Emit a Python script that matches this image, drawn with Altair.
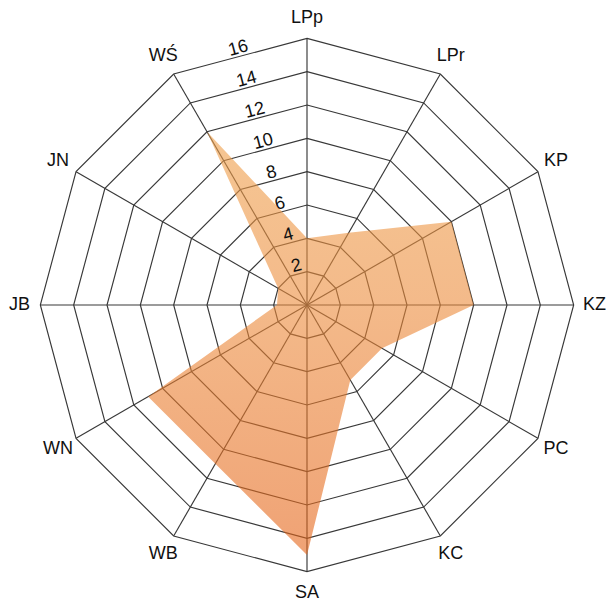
import altair as alt
import pandas as pd

categories = ["LPp", "LPr", "KP", "KZ", "PC", "KC", "SA", "WB", "WN", "JB", "JN", "WŚ"]
values = [4.0, 5.0, 10.0, 10.0, 5.2, 5.2, 15.0, 11.0, 11.0, 1.8, 2.0, 12.0]
rings = [2, 4, 6, 8, 10, 12, 14, 16]
tick_labels = ["2", "4", "6", "8", "10", "12", "14", "16"]

LABEL_R = 17.25
N = len(categories)

series = pd.DataFrame({"cat": categories, "value": values, "k": list(range(N))})
grid = pd.DataFrame([{"ring": r, "k": k} for r in rings for k in range(N)])
spokes = pd.DataFrame({"k": list(range(N)), "r": [16] * N})
ticks = pd.DataFrame({"t": rings, "label": tick_labels})

xs = alt.Scale(domain=[-17.94, 17.94], nice=False, zero=False)
ys = alt.Scale(domain=[-17.76, 17.82], nice=False, zero=False)

def X(f):
    return alt.X(f, type="quantitative", scale=xs, axis=None)

def Y(f):
    return alt.Y(f, type="quantitative", scale=ys, axis=None)

ring_layer = alt.Chart(grid).transform_calculate(
    x="datum.ring * sin(datum.k * PI / 6)",
    y="datum.ring * cos(datum.k * PI / 6)",
).mark_line(interpolate="linear-closed", color="#383838", strokeWidth=1.15).encode(
    x=X("x"), y=Y("y"), detail="ring:N", order="k:Q"
)

spoke_layer = alt.Chart(spokes).transform_calculate(
    x="datum.r * sin(datum.k * PI / 6)",
    y="datum.r * cos(datum.k * PI / 6)",
    x0="0",
    y0="0",
).mark_rule(color="#383838", strokeWidth=1.15).encode(
    x=X("x0"), y=Y("y0"), x2="x:Q", y2="y:Q"
)

gradient = alt.LinearGradient(
    gradient="linear",
    stops=[
        alt.GradientStop(color="#EFA04A", offset=0),
        alt.GradientStop(color="#EC8C3C", offset=0.4),
        alt.GradientStop(color="#E56418", offset=1),
    ],
    x1=0, x2=0, y1=0, y2=1,
)

fill_layer = alt.Chart(series).transform_calculate(
    x="datum.value * sin(datum.k * PI / 6)",
    y="datum.value * cos(datum.k * PI / 6)",
).mark_line(
    interpolate="linear-closed", fill=gradient, fillOpacity=0.6, strokeOpacity=0
).encode(x=X("x"), y=Y("y"), order="k:Q")

cat_layer = alt.Chart(series).transform_calculate(
    x=f"{LABEL_R} * sin(datum.k * PI / 6)",
    y=f"{LABEL_R} * cos(datum.k * PI / 6)",
).mark_text(
    font="Liberation Sans", fontSize=18, color="#111111", align="center", baseline="middle"
).encode(x=X("x"), y=Y("y"), text="cat:N")

tick_layer = alt.Chart(ticks).transform_calculate(
    x="-datum.t * cos(PI / 12) * sin(PI / 12)",
    y="datum.t * cos(PI / 12) * cos(PI / 12)",
).mark_text(
    font="Liberation Sans", fontSize=18, color="#111111", align="center",
    baseline="alphabetic", angle=345, dy=-3
).encode(x=X("x"), y=Y("y"), text="label:N")

chart = alt.layer(ring_layer, spoke_layer, fill_layer, tick_layer, cat_layer).properties(
    width=598, height=593, autosize=alt.AutoSizeParams(type="none"), padding=0
).configure_view(stroke=None)

chart.save("out.html", embed_options={"renderer": "svg", "actions": False})
